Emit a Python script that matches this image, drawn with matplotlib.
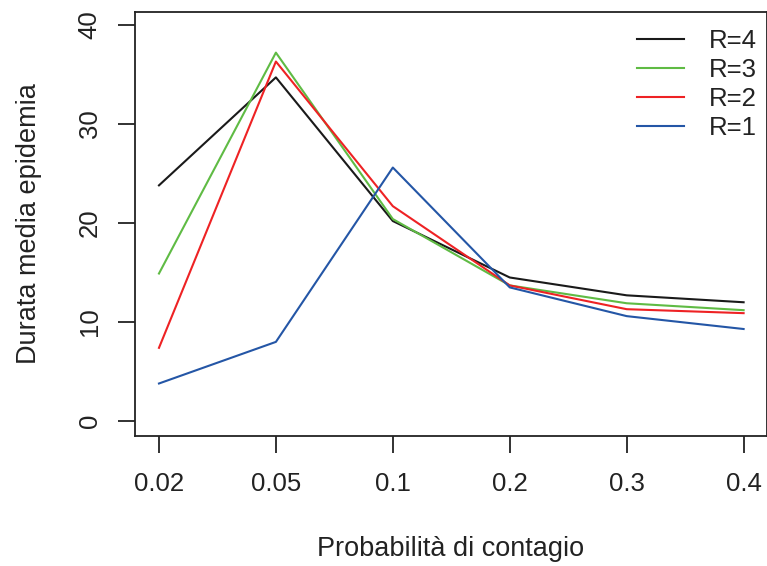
import matplotlib.pyplot as plt

plt.rcParams['font.family'] = ['Liberation Sans', 'DejaVu Sans']

probs = ['0.02', '0.05', '0.1', '0.2', '0.3', '0.4']
r4 = [23.8, 34.7, 20.2, 14.5, 12.7, 12.0]
r3 = [14.9, 37.2, 20.4, 13.7, 11.9, 11.2]
r2 = [7.4, 36.3, 21.7, 13.7, 11.3, 10.9]
r1 = [3.8, 8.0, 25.6, 13.5, 10.6, 9.3]

series = [('R=4', r4, '#1a1a1a'),
          ('R=3', r3, '#5fbb44'),
          ('R=2', r2, '#ee2224'),
          ('R=1', r1, '#2456a6')]

fig = plt.figure(figsize=(7.67, 5.66), dpi=100)
ax = fig.add_axes([135 / 767, 1 - 436 / 566, 632 / 767, 424 / 566])

x = list(range(len(probs)))
for name, vals, col in series:
    ax.plot(x, vals, color=col, lw=1.5, label=name)

ax.set_xlim(-0.205, 5.2)
ax.set_ylim(-1.5, 41.3)
ax.set_xticks(x)
ax.set_xticklabels(probs)
ax.set_yticks([0, 10, 20, 30, 40])
ax.set_yticklabels(['0', '10', '20', '30', '40'], rotation=90, va='center')

for s in ax.spines.values():
    s.set_color('#222222')
    s.set_linewidth(1.3)
ax.tick_params(axis='both', length=12, width=1.3, color='#222222',
               labelsize=18.5, labelcolor='#222222')
ax.tick_params(axis='x', pad=14)
ax.tick_params(axis='y', pad=12)

ax.set_xlabel('Probabilità di contagio', fontsize=19.5, color='#222222', labelpad=29)
ax.set_ylabel('Durata media epidemia', fontsize=19.5, color='#222222', labelpad=26)

ax.legend(loc='upper right', bbox_to_anchor=(1.0, 0.985), frameon=False,
          fontsize=18.5, handlelength=1.85, handletextpad=0.95,
          labelspacing=0.2, borderaxespad=0.0, labelcolor='#222222')

fig.savefig('out.png', dpi=100)
